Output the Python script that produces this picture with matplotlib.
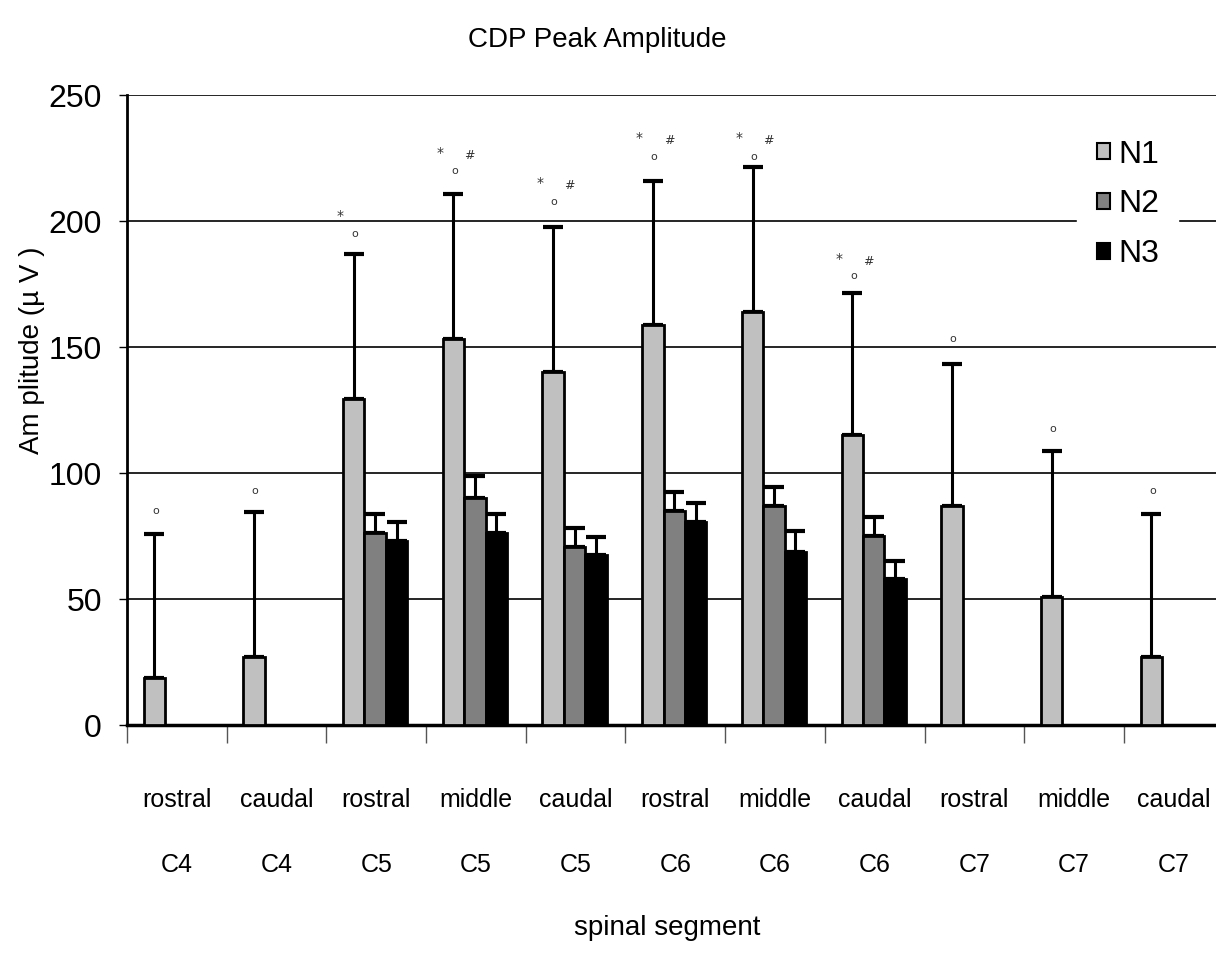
import numpy as np
import matplotlib
matplotlib.use('Agg')
import matplotlib.pyplot as plt
from matplotlib.patches import Patch
from matplotlib.transforms import blended_transform_factory

plt.rcParams['font.family'] = ['Liberation Sans Narrow', 'Liberation Sans', 'DejaVu Sans']

# Data
positions = ['rostral', 'caudal', 'rostral', 'middle', 'caudal', 'rostral',
             'middle', 'caudal', 'rostral', 'middle', 'caudal']
segments = ['C4', 'C4', 'C5', 'C5', 'C5', 'C6', 'C6', 'C6', 'C7', 'C7', 'C7']

n1_mean = [18.7, 27.0, 129.4, 153.2, 140.2, 158.7, 164.0, 115.1, 86.9, 50.9, 27.1]
n1_sd = [57.3, 57.5, 57.6, 57.5, 57.4, 57.3, 57.5, 56.3, 56.5, 57.7, 56.5]
nan = np.nan
n2_mean = [nan, nan, 76.2, 90.2, 70.5, 84.9, 86.9, 75.0, nan, nan, nan]
n2_sd = [nan, nan, 7.5, 8.6, 7.5, 7.4, 7.5, 7.4, nan, nan, nan]
n3_mean = [nan, nan, 73.0, 76.2, 67.5, 80.7, 68.5, 57.9, nan, nan, nan]
n3_sd = [nan, nan, 7.6, 7.5, 7.2, 7.3, 8.6, 7.3, nan, nan, nan]

# significance marks (y position of each symbol, None = no mark)
star_y = [None, None, 202, 227, 215, 233, 233, 185, None, None, None]
circ_y = [85, 93, 195, 220, 207.5, 225.5, 225.5, 178, 153, 117.5, 93]
hash_y = [None, None, None, 226, 214, 232, 232, 184, None, None, None]

series = ['N1', 'N2', 'N3']
colors = ['#c0c0c0', '#808080', '#000000']

fig = plt.figure(figsize=(12.16, 9.55), dpi=100)
ax = fig.add_axes([0.1044, 0.2408, 0.9019, 0.6597])

x = np.arange(len(positions))
width = 0.215
offsets = [-0.225, -0.01, 0.205]
means = [n1_mean, n2_mean, n3_mean]
sds = [n1_sd, n2_sd, n3_sd]

for k in range(3):
    m = np.array(means[k], dtype=float)
    s = np.array(sds[k], dtype=float)
    ok = ~np.isnan(m)
    ax.bar(x[ok] + offsets[k], m[ok], width, color=colors[k],
           edgecolor='black', linewidth=2, zorder=3)
    ax.errorbar(x[ok] + offsets[k], m[ok], yerr=[np.zeros(ok.sum()), s[ok]],
                fmt='none', ecolor='black', elinewidth=2.2, capsize=7,
                capthick=3, zorder=2)

# significance symbols
for i in range(len(positions)):
    xc = x[i] + offsets[0]
    if star_y[i] is not None:
        ax.text(xc - 0.135, star_y[i], '*', ha='center', va='center',
                fontsize=10, color='#333333', family='DejaVu Sans')
    if circ_y[i] is not None:
        ax.text(xc + 0.01, circ_y[i], 'o', ha='center', va='center',
                fontsize=8, color='#333333', family='DejaVu Sans')
    if hash_y[i] is not None:
        ax.text(xc + 0.16, hash_y[i], '#', ha='center', va='center',
                fontsize=9, color='#333333', family='DejaVu Sans')

ax.set_xlim(-0.5, len(positions) - 0.5)
ax.set_ylim(0, 250)
ax.set_yticks([0, 50, 100, 150, 200, 250])
ax.yaxis.grid(True, color='black', linewidth=1.2, zorder=0)
ax.set_axisbelow(True)
ax.tick_params(axis='y', labelsize=23, length=6, width=1, pad=12)
ax.set_xticks(np.arange(len(positions) + 1) - 0.5)
ax.set_xticklabels([])
ax.tick_params(axis='x', length=13, width=1, color='#555555')

for side in ['top', 'right']:
    ax.spines[side].set_visible(False)
ax.spines['left'].set_linewidth(2)
ax.spines['bottom'].set_linewidth(2.5)

# category labels under axis
tr = blended_transform_factory(ax.transData, fig.transFigure)
for i in range(len(positions)):
    ax.text(x[i], 0.1623, positions[i], transform=tr, ha='center',
            va='center', fontsize=18)
    ax.text(x[i], 0.0942, segments[i], transform=tr, ha='center',
            va='center', fontsize=18)

fig.text(0.549, 0.0283, 'spinal segment', ha='center', va='center', fontsize=20)
fig.text(0.491, 0.958, 'CDP Peak Amplitude', ha='center', va='center', fontsize=20)
fig.text(0.026, 0.6335, 'Am plitude (µ V )', ha='center', va='center',
         rotation=90, fontsize=20)

handles = [Patch(facecolor=colors[k], edgecolor='black', linewidth=1.5)
           for k in range(3)]
leg = ax.legend(handles, series, loc='upper right', bbox_to_anchor=(0.973, 0.985),
                fontsize=23, frameon=True, fancybox=False, handlelength=0.42,
                handleheight=0.42, handletextpad=0.25, labelspacing=0.62,
                borderpad=0.6)
leg.get_frame().set_edgecolor('white')
leg.get_frame().set_facecolor('white')
leg.get_frame().set_alpha(1)

fig.savefig('out.png', dpi=100)
